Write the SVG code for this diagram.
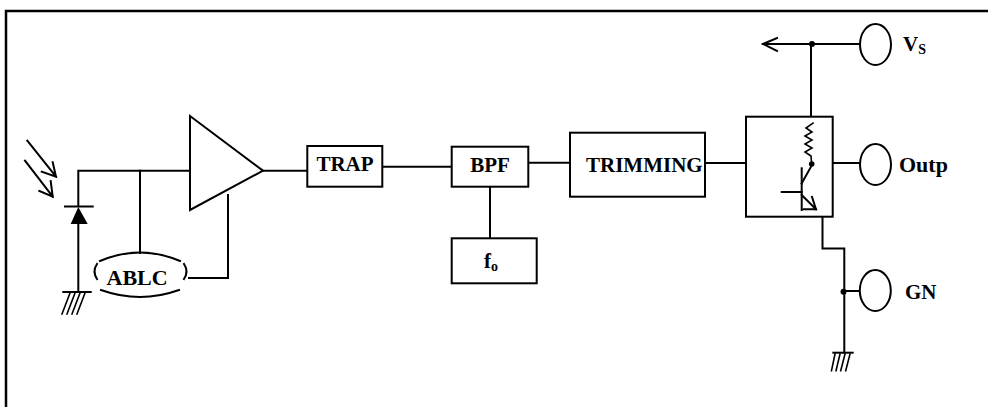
<svg xmlns="http://www.w3.org/2000/svg" width="988" height="407" viewBox="0 0 988 407">
<style>
.s{fill:none;stroke:#000;stroke-width:2;stroke-linecap:square;stroke-linejoin:miter}
.b{fill:#fff;stroke:#000;stroke-width:2}
.t{font-family:'Liberation Serif','DejaVu Serif',serif;font-weight:bold;font-size:21px;fill:#000}
.sub{font-size:14px}
.dot{fill:#000}
</style>
<rect width="988" height="407" fill="#fff"/>
<g id="frame">
<path class="s" d="M6,407 V11 H988" style="stroke-width:2.5"/>
</g>
<g id="connectors">
<path class="s" d="M78.3,206 V170.7 H190"/>
<path class="s" d="M140,170.7 V253"/>
<path class="s" d="M228,195 V278 H189"/>
<path class="s" d="M263,170.7 H307.3"/>
<path class="s" d="M382.3,166.7 H451.7"/>
<path class="s" d="M528.3,162.7 H570"/>
<path class="s" d="M490,186.7 V238.3"/>
<path class="s" d="M705,163 H746"/>
<path class="s" d="M832.7,163 H860"/>
<path class="s" d="M763,44 H860"/>
<path class="s" d="M777,38 L763,44 L777,51"/>
<circle class="dot" cx="812" cy="44" r="3"/>
<path class="s" d="M811,44 V116.7"/>
<path class="s" d="M822.5,216.7 V248.5 H844.3 V352.7"/>
<circle class="dot" cx="843.5" cy="291.7" r="3"/>
<path class="s" d="M844,291 H860"/>
</g>
<g id="light">
<path class="s" d="M27.3,140.7 L56,176.7 M41.7,171.7 L56,176.7 L52.7,162.3"/>
<path class="s" d="M25,160.7 L52.7,196.7 M39.3,191 L52.7,196.7 L50.7,181"/>
</g>
<g id="photodiode">
<path class="s" d="M65,206.5 H92.7"/>
<polygon points="78.3,207 70.7,224 87.7,224" fill="#000"/>
<path class="s" d="M78.3,224 V292"/>
</g>
<g id="ground1">
<path class="s" d="M63.3,292 H90.7"/>
<path class="s" d="M70,293 L62,314 M75,293 L67,314 M80,293 L72,314 M85,293 L77,314" style="stroke-width:1.6"/>
</g>
<g id="amp">
<polygon class="b" points="190,116 263,170.7 190,210"/>
</g>
<g id="ablc">
<path class="s" d="M100,261 Q140,244 180,261"/>
<path class="s" d="M101,290 Q140,304 179,290"/>
<path class="s" d="M97,264 Q92,271.5 97,279"/>
<path class="s" d="M184,264 Q189,271.5 184,279"/>
<text class="t" x="106.5" y="284.5" font-family="Liberation Serif, serif" style="font-size:22px">ABLC</text>
</g>
<g id="trap">
<rect class="b" x="307.3" y="146" width="75" height="40.7"/>
<text class="t" x="345" y="170.7" text-anchor="middle" font-family="Liberation Serif, serif">TRAP</text>
</g>
<g id="bpf">
<rect class="b" x="451.7" y="146.7" width="76.6" height="40"/>
<text class="t" x="490" y="171.7" text-anchor="middle" font-family="Liberation Serif, serif">BPF</text>
</g>
<g id="fo">
<rect class="b" x="451.7" y="238.3" width="85" height="45"/>
<text class="t" x="484" y="268.3" font-family="Liberation Serif, serif">f<tspan class="sub" dy="3">o</tspan></text>
</g>
<g id="trimming">
<rect class="b" x="570" y="132.7" width="135" height="64"/>
<text class="t" x="586" y="171.7" font-family="Liberation Serif, serif">TRIMMING</text>
</g>
<g id="output-stage">
<rect class="b" x="746" y="116.7" width="86.7" height="100"/>
<path class="s" d="M813,123 L806,128 L812,132 L805,136 L812,140 L805,144 L812,148 L805,152 L811,156 L811.7,164" style="stroke-width:1.6"/>
<circle class="dot" cx="811.7" cy="164" r="2.8"/>
<path class="s" d="M801.7,168.3 V210"/>
<path class="s" d="M781.7,192 H801.7"/>
<path class="s" d="M801.7,183.3 L811.7,165.5"/>
<path class="s" d="M801.7,195 L816,209.3"/>
<path class="s" d="M812,197 L816,209.3 L803.5,209.3"/>
</g>
<g id="vs">
<ellipse class="b" cx="875.5" cy="44.5" rx="15.5" ry="20.5"/>
<text class="t" x="903" y="50.7" font-family="Liberation Serif, serif">V<tspan class="sub" dy="3.5">S</tspan></text>
</g>
<g id="outp">
<ellipse class="b" cx="875.5" cy="164.5" rx="15.5" ry="20.5"/>
<text class="t" x="899" y="171.7" font-family="Liberation Serif, serif" style="font-size:22px">Outp</text>
</g>
<g id="gn">
<ellipse class="b" cx="875.3" cy="290.5" rx="15.5" ry="20.5"/>
<text class="t" x="905" y="299" font-family="Liberation Serif, serif">GN</text>
</g>
<g id="ground2">
<path class="s" d="M833.3,352.7 H852.7"/>
<path class="s" d="M835,354 L831.5,370.7 M840,354 L836,370.7 M845,354 L840.7,370.7 M850,354 L845.7,370.7" style="stroke-width:1.6"/>
</g>
</svg>
